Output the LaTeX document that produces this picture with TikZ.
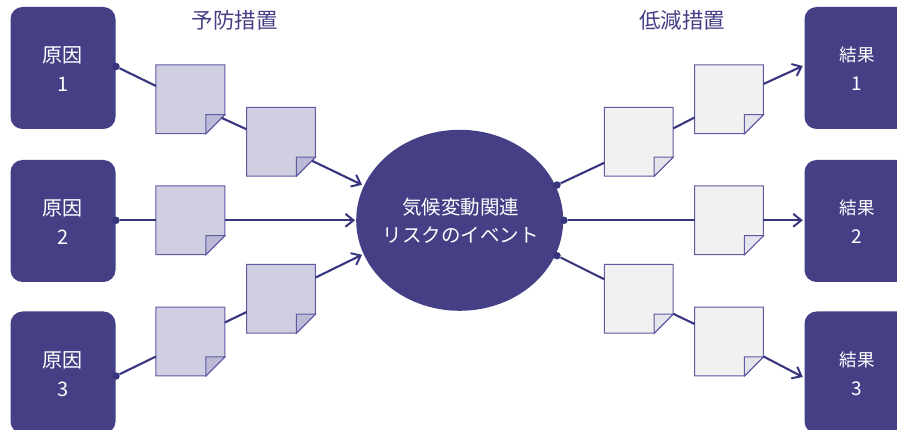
\documentclass[tikz,border=0pt]{standalone}
\usepackage{fontspec}
\setmainfont{Noto Sans CJK JP}
\usetikzlibrary{arrows.meta,shapes.geometric}
\definecolor{navy}{HTML}{453F85}
\definecolor{linec}{HTML}{38357F}
\definecolor{edgec}{HTML}{5F5AA2}
\definecolor{preF}{HTML}{D0CFE2}
\definecolor{preD}{HTML}{BBB9D6}
\definecolor{redF}{HTML}{F1F1F1}
\definecolor{redD}{HTML}{E4E4EC}
\tikzset{
  block/.style={rounded corners=12pt,fill=navy,minimum width=105pt,minimum height=122pt,inner sep=0pt},
  blocktext/.style={text=white,align=center,inner sep=0pt},
  riskoval/.style={ellipse,fill=navy,minimum width=207pt,minimum height=181pt,inner sep=0pt},
  risktext/.style={text=white,align=center,inner sep=0pt,font=\fontsize{19.5}{28}\selectfont},
  notebase/.style={minimum width=68.5pt,minimum height=68.5pt,inner sep=0pt},
  conn/.style={draw=linec,line width=2.1pt},
  arr/.style={conn,-{Straight Barb[length=8pt,width=13pt,line width=2pt]}},
  dotc/.style={circle,fill=linec,minimum size=7.5pt,inner sep=0pt},
  heading/.style={text=navy,font=\fontsize{21.5}{24}\selectfont,inner sep=0pt},
  causetxt/.style={font=\fontsize{20}{29}\selectfont},
  resulttxt/.style={font=\fontsize{17.5}{29}\selectfont},
}
\newcommand{\stickynote}[4]{%
  \node[notebase] (#1) at (#2) {};
  \draw[draw=edgec,line width=1pt,fill=#3] (#1.north west) -- (#1.north east) -- ([yshift=19pt]#1.south east) -- ([xshift=-19pt]#1.south east) -- (#1.south west) -- cycle;
  \draw[draw=edgec,line width=1pt,fill=#4] ([yshift=19pt]#1.south east) -- ([xshift=-19pt,yshift=19pt]#1.south east) -- ([xshift=-19pt]#1.south east) -- cycle;
}
\begin{document}
\begin{tikzpicture}[x=1pt,y=-1pt]
\useasboundingbox (0,0) rectangle (897,430);
\clip (0,0) rectangle (897,430);
% blocks
\node[block] (c1) at (63,68) {};
\node[blocktext,causetxt] (tc1) at (62.9,69) {原因\\1};
\node[block] (c2) at (63,221) {};
\node[blocktext,causetxt] (tc2) at (62.9,222) {原因\\2};
\node[block] (c3) at (63,372.5) {};
\node[blocktext,causetxt] (tc3) at (62.9,374) {原因\\3};
\node[block] (r1) at (857,68) {};
\node[blocktext,resulttxt] (tr1) at (857,69) {結果\\{\fontsize{19}{29}\selectfont 1}};
\node[block] (r2) at (857,221) {};
\node[blocktext,resulttxt] (tr2) at (857,222) {結果\\{\fontsize{19}{29}\selectfont 2}};
\node[block] (r3) at (857,372.5) {};
\node[blocktext,resulttxt] (tr3) at (857,373.5) {結果\\{\fontsize{19}{29}\selectfont 3}};
\node[riskoval] (risk) at (459.7,220.3) {};
\node[risktext] (trisk) at (460.5,221) {気候変動関連\\リスクのイベント};
% headings
\node[heading] (hp) at (234.5,20) {予防措置};
\node[heading] (hr) at (682,20) {低減措置};
% notes
\stickynote{a1}{190.4,99.3}{preF}{preD}
\stickynote{a2}{281,141.8}{preF}{preD}
\stickynote{b1}{190.4,220.3}{preF}{preD}
\stickynote{d1}{190.4,341.5}{preF}{preD}
\stickynote{d2}{281,298.8}{preF}{preD}
\stickynote{e1}{638.7,141.8}{redF}{redD}
\stickynote{e2}{729,99.3}{redF}{redD}
\stickynote{f1}{729,220.3}{redF}{redD}
\stickynote{g1}{638.7,298.8}{redF}{redD}
\stickynote{g2}{729,341.5}{redF}{redD}
% dots
\node[dotc] (dc1) at (116,66.5) {};
\node[dotc] (dc2) at (116,220.3) {};
\node[dotc] (dc3) at (116,376) {};
\node[dotc] (dr1) at (557,185) {};
\node[dotc] (dr2) at (564,220.3) {};
\node[dotc] (dr3) at (557,255.7) {};
% connectors, cause side
\draw[conn] (dc1) -- ([yshift=13.3pt]a1.west);
\draw[conn] ([shift={(-3.5pt,16pt)}]a1.south east) -- ([yshift=12.5pt]a2.west);
\draw[arr] ([shift={(-3.5pt,15.5pt)}]a2.south east) -- ([shift={(-97.7pt,35.5pt)}]risk.center);
\draw[conn] (dc2) -- (b1.west);
\draw[arr] (b1.east) -- ([xshift=-1pt]risk.west);
\draw[conn] (dc3) -- ([yshift=-15pt]d1.west);
\draw[conn] ([yshift=19pt]d1.east) -- ([yshift=-13.2pt]d2.west);
\draw[arr] ([yshift=21.2pt]d2.east) -- ([shift={(-97.7pt,-34.5pt)}]risk.center);
% connectors, result side
\draw[conn] (dr1) -- ([yshift=-21pt]e1.west);
\draw[conn] ([yshift=13.3pt]e1.east) -- ([yshift=-18.2pt]e2.west);
\draw[arr] ([yshift=15.3pt]e2.east) -- ([shift={(-1.5pt,2pt)}]r1.west);
\draw[conn] (dr2) -- (f1.west);
\draw[arr] (f1.east) -- ([xshift=-1.5pt]f1.east -| r2.west);
\draw[conn] (dr3) -- ([yshift=19.5pt]g1.west);
\draw[conn] ([yshift=19.5pt]g1.south east) -- ([yshift=17.5pt]g2.west);
\draw[arr] ([yshift=19.5pt]g2.south east) -- ([shift={(-1.5pt,-4.5pt)}]r3.west);
\end{tikzpicture}
\end{document}
